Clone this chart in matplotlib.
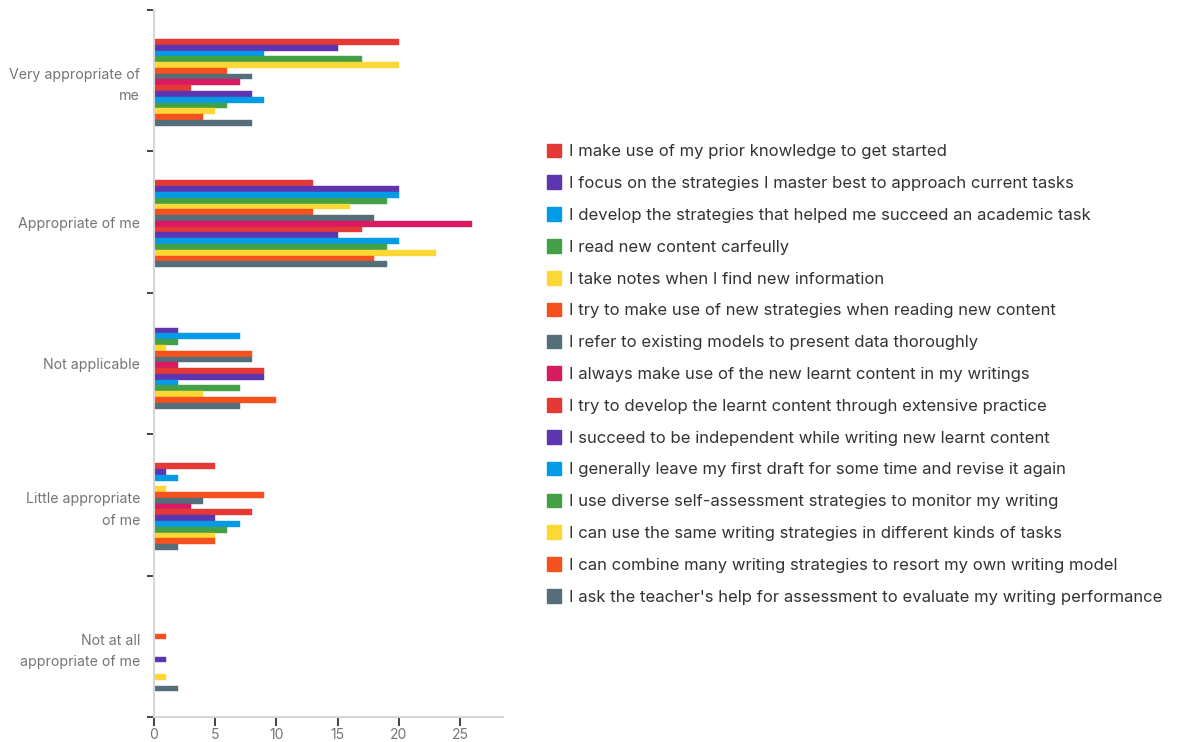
import matplotlib
matplotlib.use("Agg")
import matplotlib.pyplot as plt
from matplotlib.patches import Patch
import numpy as np

plt.rcParams['font.family'] = ['Inter', 'DejaVu Sans']

categories = ["Very appropriate of\nme", "Appropriate of me", "Not applicable",
              "Little appropriate\nof me", "Not at all\nappropriate of me"]

statements = [
    "I make use of my prior knowledge to get started",
    "I focus on the strategies I master best to approach current tasks",
    "I develop the strategies that helped me succeed an academic task",
    "I read new content carfeully",
    "I take notes when I find new information",
    "I try to make use of new strategies when reading new content",
    "I refer to existing models to present data thoroughly",
    "I always make use of the new learnt content in my writings",
    "I try to develop the learnt content through extensive practice",
    "I succeed to be independent while writing new learnt content",
    "I generally leave my first draft for some time and revise it again",
    "I use diverse self-assessment strategies to monitor my writing",
    "I can use the same writing strategies in different kinds of tasks",
    "I can combine many writing strategies to resort my own writing model",
    "I ask the teacher's help for assessment to evaluate my writing performance",
]

# counts per statement, one value per category (in category order)
s01 = [20, 13, 0, 5, 0]
s02 = [15, 20, 2, 1, 0]
s03 = [9, 20, 7, 2, 0]
s04 = [17, 19, 2, 0, 0]
s05 = [20, 16, 1, 1, 0]
s06 = [6, 13, 8, 9, 1]
s07 = [8, 18, 8, 4, 0]
s08 = [7, 26, 2, 3, 0]
s09 = [3, 17, 9, 8, 0]
s10 = [8, 15, 9, 5, 1]
s11 = [9, 20, 2, 7, 0]
s12 = [6, 19, 7, 6, 0]
s13 = [5, 23, 4, 5, 1]
s14 = [4, 18, 10, 5, 0]
s15 = [8, 19, 7, 2, 2]
series = [s01, s02, s03, s04, s05, s06, s07, s08, s09, s10, s11, s12, s13, s14, s15]

colors = ["#E53935", "#5E35B1", "#039BE5", "#43A047", "#FDD835", "#F4511E",
          "#546E7A", "#D81B60", "#E53935", "#5E35B1", "#039BE5", "#43A047",
          "#FDD835", "#F4511E", "#546E7A"]

xticks = [0, 5, 10, 15, 20, 25]

fig = plt.figure(figsize=(11.82, 7.42), dpi=100)
ax = fig.add_axes([154 / 1182, 25 / 742, (503 - 154) / 1182, (717 - 10) / 742])

n = len(series)
group = 0.615
h = group / n
pos = np.arange(len(categories))
for i, (vals, c) in enumerate(zip(series, colors)):
    offs = -group / 2 + h * (i + 0.5)
    ax.barh(pos + offs + 0.012, vals, height=h, color=c, edgecolor=c, linewidth=0.3)

ax.set_ylim(len(categories) - 0.5, -0.5)
ax.set_xlim(0, 28.5)

# category boundaries carry the tick marks, centres carry the labels
ax.set_yticks(np.arange(len(categories) + 1) - 0.5)
ax.set_yticklabels([])
ax.set_yticks(pos, minor=True)
ax.set_yticklabels(categories, minor=True, fontsize=10.2, color="#757575",
                   ha="right", linespacing=1.65)
ax.tick_params(axis="y", which="major", length=5, width=1.2, color="#222222")
ax.tick_params(axis="y", which="minor", length=0, pad=10)

ax.set_xticks(xticks)
ax.set_xticklabels([str(t) for t in xticks], fontsize=10, color="#757575")
ax.tick_params(axis="x", length=6.5, width=1.2, color="#222222", pad=1.5)

for side in ["top", "right"]:
    ax.spines[side].set_visible(False)
for side in ["left", "bottom"]:
    ax.spines[side].set_color("#D6D6D6")
    ax.spines[side].set_linewidth(1.5)

handles = [Patch(facecolor=c, edgecolor=c) for c in colors]
fig.legend(handles, statements, loc="upper left",
           bbox_to_anchor=(540 / 1182, 1 - 137 / 742), frameon=False,
           fontsize=12.0, labelcolor="#333333", handlelength=0.88,
           handleheight=0.88, handletextpad=0.45, labelspacing=0.975,
           borderaxespad=0)

fig.savefig("out.png", dpi=100, facecolor="white")
